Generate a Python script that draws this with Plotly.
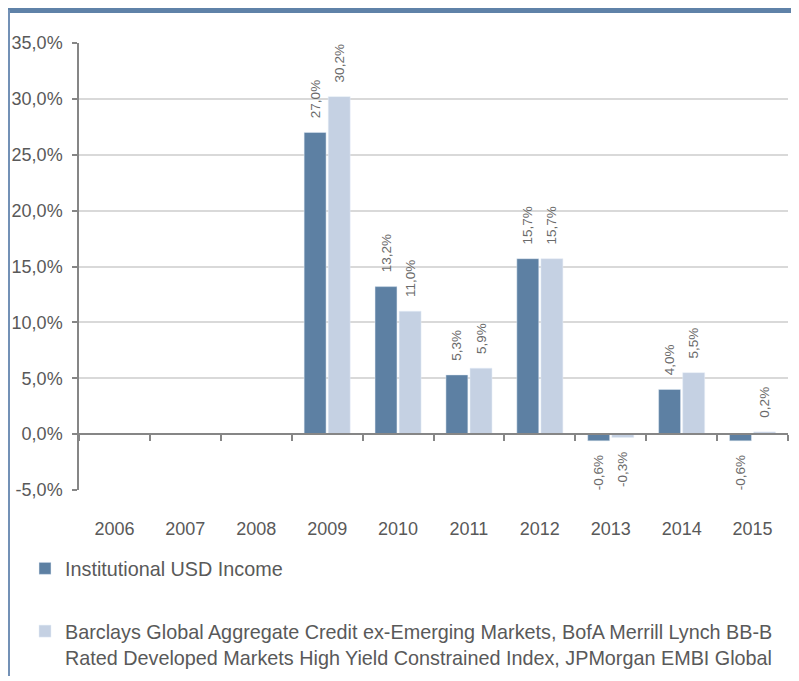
import plotly.graph_objects as go

years = ["2006", "2007", "2008", "2009", "2010", "2011", "2012", "2013", "2014", "2015"]
fund = [None, None, None, 27.0, 13.2, 5.3, 15.7, -0.6, 4.0, -0.6]
bench = [None, None, None, 30.2, 11.0, 5.9, 15.7, -0.3, 5.5, 0.2]
fund_name = "Institutional USD Income"
bench_name = ("Barclays Global Aggregate Credit ex-Emerging Markets, BofA Merrill Lynch BB-B<br>"
              "Rated Developed Markets High Yield Constrained Index, JPMorgan EMBI Global")
y_ticks = [-5, 0, 5, 10, 15, 20, 25, 30, 35]

# page is offset by the 8px body margin
OFF = 8
W, H = 799 - OFF, 681 - OFF
ML, MR, MT, MB = 79 - OFF, 11, 43 - OFF, 191
PW, PH = W - ML - MR, H - MT - MB

def px_x(px):
    return (px - OFF - ML) / PW

def px_y(py):
    return (H - MB - (py - OFF)) / PH

def pct(v):
    return f"{v:.1f}".replace(".", ",") + "%"

NB = "\u00a0" * 3

def labels(vals):
    out = []
    for v in vals:
        if v is None:
            out.append("")
        else:
            out.append(NB + pct(v) if v >= 0 else pct(v) + NB)
    return out

FONT = "Arial, Liberation Sans, sans-serif"
TXT = "#595959"

fig = go.Figure()
fig.add_trace(go.Bar(x=years, y=fund, name=fund_name, marker_color="#5D80A3",
                     text=labels(fund), textposition="outside", textangle=-90,
                     constraintext="none", cliponaxis=False,
                     textfont=dict(size=13.5, color="#6A6A6A", family=FONT),
                     legendgroup="a"))
fig.add_trace(go.Bar(x=years, y=bench, name=bench_name, marker_color="#C5D1E3",
                     text=labels(bench), textposition="outside", textangle=-90,
                     constraintext="none", cliponaxis=False,
                     textfont=dict(size=13.5, color="#6A6A6A", family=FONT),
                     legendgroup="b"))

fig.update_layout(
    width=W, height=H,
    margin=dict(l=ML, r=MR, t=MT, b=MB, autoexpand=False),
    paper_bgcolor="white", plot_bgcolor="white",
    font=dict(family=FONT, color=TXT, size=18),
    barmode="group", bargap=0.32, bargroupgap=0.09,
    showlegend=True,
    legend=dict(orientation="v", x=px_x(25), y=px_y(549), xanchor="left", yanchor="top",
                font=dict(size=19.8, color=TXT, family=FONT), valign="top",
                tracegroupgap=34, itemclick=False, bgcolor="rgba(0,0,0,0)"),
    xaxis=dict(type="category", range=[-0.5, 9.5], anchor="free", position=0.125,
               showline=True, linecolor="#868686", linewidth=1.5,
               ticks="outside", tickson="boundaries", ticklen=6, tickwidth=1.5,
               tickcolor="#868686", showgrid=False, ticklabelstandoff=79,
               tickfont=dict(size=18, color=TXT)),
    yaxis=dict(range=[-5, 35], tickmode="array", tickvals=y_ticks,
               ticktext=[pct(v) for v in y_ticks],
               showline=True, linecolor="#868686", linewidth=1.5,
               ticks="outside", ticklen=5, tickwidth=1.5, tickcolor="#868686",
               showgrid=True, gridcolor="#D9D9D9", gridwidth=1.5,
               zeroline=False, ticklabelstandoff=6,
               tickfont=dict(size=18, color=TXT)),
    shapes=[
        dict(type="rect", xref="paper", yref="paper", x0=px_x(0), x1=px_x(805),
             y0=px_y(13), y1=px_y(0), fillcolor="#5F82A8", line=dict(width=0), layer="above"),
        dict(type="line", xref="paper", yref="paper", x0=px_x(9), x1=px_x(9),
             y0=px_y(676), y1=px_y(10), line=dict(color="#7391B6", width=2)),
    ],
)

fig.write_html("out.html")
